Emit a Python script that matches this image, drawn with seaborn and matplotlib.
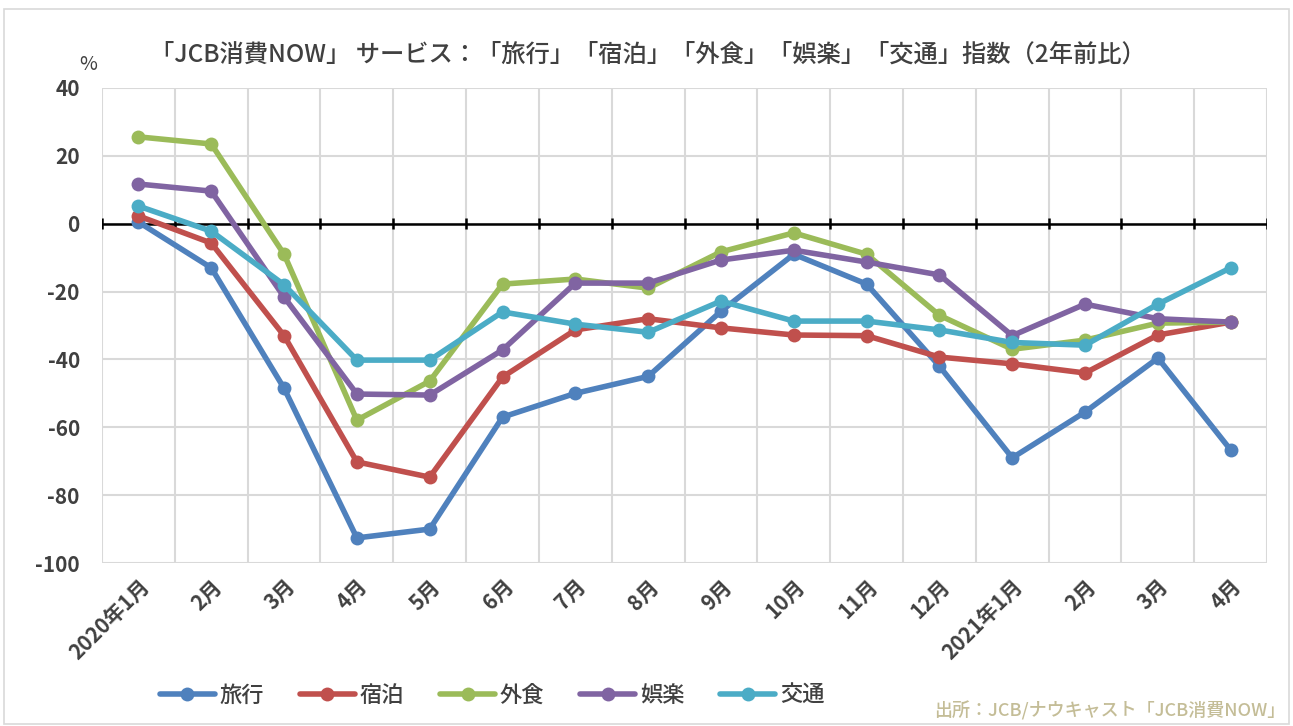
import numpy as np
import pandas as pd
import seaborn as sns
import matplotlib.pyplot as plt
from matplotlib.patches import Rectangle

months = ['2020年1月', '2月', '3月', '4月', '5月', '6月', '7月', '8月', '9月',
          '10月', '11月', '12月', '2021年1月', '2月', '3月', '4月']
travel = [0.5, -13, -48.5, -92.6, -90, -57, -50, -45, -25.8, -9, -17.8, -42, -69, -55.5, -39.6, -66.7]
lodging = [2.3, -5.7, -33, -70.2, -74.7, -45.2, -31.3, -28, -30.7, -32.8, -33, -39.3, -41.3, -44, -32.8, -29]
dining = [25.6, 23.5, -9, -57.9, -46.4, -17.8, -16.3, -19, -8.3, -2.7, -9, -27, -37, -34.3, -29.3, -29]
leisure = [11.7, 9.6, -21.6, -50.2, -50.5, -37.2, -17.5, -17.5, -10.7, -7.8, -11.3, -15.1, -33, -23.7, -28, -29]
transport = [5.2, -2.2, -18, -40.2, -40.2, -26, -29.6, -32, -22.8, -28.7, -28.7, -31.3, -35, -35.8, -23.7, -13]

names = ['旅行', '宿泊', '外食', '娯楽', '交通']
colors = ['#4F81BD', '#C0504D', '#9BBB59', '#8064A2', '#4BACC6']

x = np.arange(len(months))
df = pd.DataFrame({'x': x, '旅行': travel, '宿泊': lodging, '外食': dining,
                   '娯楽': leisure, '交通': transport})
long = df.melt(id_vars='x', var_name='series', value_name='value')

sns.set_style('white')
plt.rcParams['font.family'] = ['Noto Sans CJK JP', 'DejaVu Sans']
plt.rcParams['axes.unicode_minus'] = False
txt = '#404040'

fig = plt.figure(figsize=(12.93, 7.26), dpi=100)
ax = fig.add_axes([0.0789, 0.2245, 0.9011, 0.6543])
fig.patches.append(Rectangle((0.003, 0.003), 0.994, 0.984, transform=fig.transFigure,
                             fill=False, edgecolor='#D9D9D9', linewidth=1.2))

sns.lineplot(data=long, x='x', y='value', hue='series', hue_order=names,
             palette=colors, marker='o', markersize=10, markeredgewidth=0,
             linewidth=4, ax=ax, legend=True, zorder=3)

# grid
for v in np.arange(-100, 41, 20):
    ax.axhline(v, color='#D9D9D9', linewidth=1.5, zorder=0)
for b in np.arange(-0.5, len(months), 1):
    ax.axvline(b, color='#D9D9D9', linewidth=1.5, zorder=0)
# zero axis with ticks
ax.axhline(0, color='black', linewidth=1.8, zorder=2)
ax.vlines(np.arange(-0.5, len(months), 1), -1.6, 1.6, color='black', linewidth=1.8, zorder=2)

ax.set_xlim(-0.5, len(months) - 0.5)
ax.set_ylim(-100, 40)
ax.set_yticks(np.arange(-100, 41, 20))
ax.set_xticks(x)
ax.set_xticklabels(months, rotation=45, ha='right', rotation_mode='anchor')
ax.tick_params(axis='both', length=0, labelcolor=txt)
ax.tick_params(axis='y', labelsize=15, pad=16)
ax.tick_params(axis='x', labelsize=15, pad=9)
for lab in ax.get_xticklabels() + ax.get_yticklabels():
    lab.set_fontweight('bold')
for s in ax.spines.values():
    s.set_visible(False)
ax.set_xlabel('')
ax.set_ylabel('')

fig.text(88 / 1293, 1 - 64 / 726, '%', fontsize=14, color=txt, ha='center', va='center')
fig.text(648 / 1293, 1 - 55 / 726,
         '「JCB消費NOW」 サービス：「旅行」「宿泊」「外食」「娯楽」「交通」指数（2年前比）',
         fontsize=17.5, fontweight='medium', color=txt, ha='center', va='center')
fig.text(1285 / 1293, 1 - 711 / 726, '出所：JCB/ナウキャスト「JCB消費NOW」',
         fontsize=13, fontweight='medium', color='#C4BD97', ha='right', va='center')

handles, labels = ax.get_legend_handles_labels()
ax.get_legend().remove()
leg = fig.legend(handles, labels, loc='center', bbox_to_anchor=(492 / 1293, 1 - 695 / 726),
                 ncol=5, frameon=False, fontsize=16, handlelength=2.5, columnspacing=1.6,
                 handletextpad=0.2, labelcolor=txt)
for t in leg.get_texts():
    t.set_fontweight('medium')

fig.savefig('out.png', dpi=100)
